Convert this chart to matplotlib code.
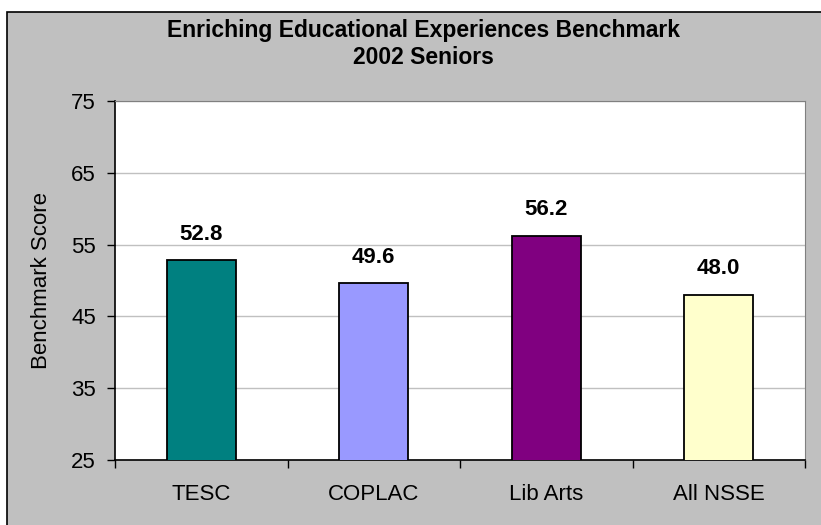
import matplotlib
matplotlib.use('Agg')
import matplotlib.pyplot as plt
from matplotlib.patches import Rectangle
from matplotlib import rcParams

rcParams['font.family'] = ['Liberation Sans', 'DejaVu Sans']

# data
categories = ['TESC', 'COPLAC', 'Lib Arts', 'All NSSE']
scores = [52.8, 49.6, 56.2, 48.0]
bar_colors = ['#008080', '#9999FF', '#800080', '#FFFFCC']
yticks = [25, 35, 45, 55, 65, 75]

W, H = 821, 525
fig = plt.figure(figsize=(W / 100, H / 100), dpi=100)
fig.patch.set_facecolor('white')

# gray chart area with black frame
fig.patches.append(Rectangle((7 / W, -0.05), 1.1, 1 - 12 / H + 0.05,
                             transform=fig.transFigure, facecolor='#C0C0C0',
                             edgecolor='black', linewidth=1.2, zorder=-10))

ax = fig.add_axes([115 / W, 1 - 460 / H, 690 / W, 359 / H])
ax.set_facecolor('white')

x = list(range(len(categories)))
ax.bar(x, scores, width=0.40, bottom=0, color=bar_colors,
       edgecolor='black', linewidth=1.3, zorder=3)
for xi, v in zip(x, scores):
    ax.text(xi, v + 2.2, '{:.1f}'.format(v), ha='center', va='bottom',
            fontsize=16, fontweight='bold', zorder=4)

ax.set_xlim(-0.5, len(categories) - 0.5)
ax.set_ylim(25, 75)
ax.set_yticks(yticks)
ax.set_yticklabels([str(t) for t in yticks], fontsize=16)
ax.yaxis.grid(True, color='#C0C0C0', linewidth=1, zorder=0)
ax.set_axisbelow(True)

# category ticks at boundaries, labels at centers
ax.set_xticks([i - 0.5 for i in range(len(categories) + 1)])
ax.set_xticklabels([])
ax.set_xticks(x, minor=True)
ax.set_xticklabels(categories, minor=True, fontsize=16)
ax.tick_params(axis='x', which='minor', length=0, pad=17)
ax.tick_params(axis='x', which='major', direction='out', length=5.8, width=1)
ax.tick_params(axis='y', direction='out', length=5.8, width=1, pad=8)

for s in ['top', 'right']:
    ax.spines[s].set_color('#808080')
for s in ['left', 'bottom']:
    ax.spines[s].set_color('black')
    ax.spines[s].set_linewidth(1.2)

ax.set_ylabel('Benchmark Score', fontsize=16, labelpad=14)

fig.text(423 / W, 1 - 31 / H, 'Enriching Educational Experiences Benchmark',
         ha='center', va='center', fontsize=16.5, fontweight='bold')
fig.text(423 / W, 1 - 58 / H, '2002 Seniors',
         ha='center', va='center', fontsize=16.5, fontweight='bold')

fig.savefig('out.png', dpi=100)
